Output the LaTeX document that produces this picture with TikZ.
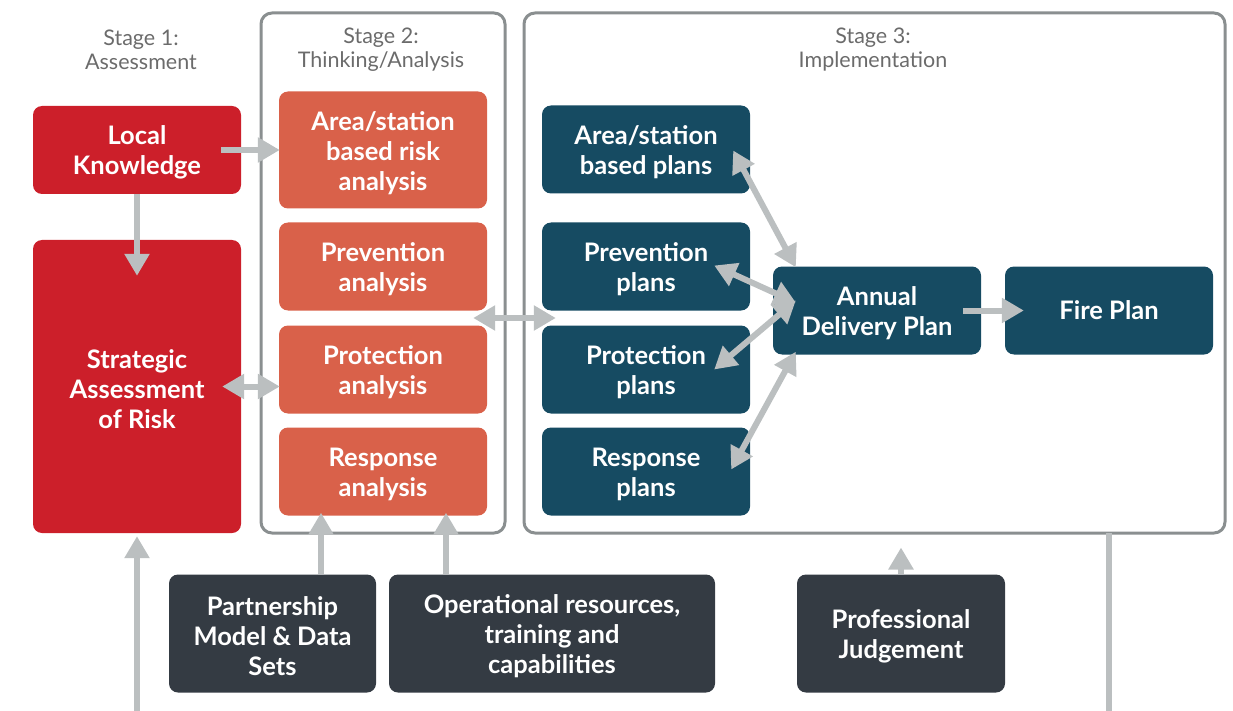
\documentclass[tikz,border=0pt]{standalone}
\usepackage{fontspec}
\setmainfont{Lato}
\usetikzlibrary{arrows.meta,calc}
\definecolor{cred}{HTML}{CC1F2A}
\definecolor{corange}{HTML}{D9614A}
\definecolor{cteal}{HTML}{164B62}
\definecolor{cdark}{HTML}{343B43}
\definecolor{carrow}{HTML}{BBBFC0}
\definecolor{cframe}{HTML}{8A8F90}
\definecolor{clabel}{HTML}{6B6B6B}
\newcommand\mystrut{\rule{0pt}{24.5pt}}
\tikzset{
  basebox/.style={rounded corners=9pt, text=white, align=center, inner sep=0pt,
    font=\bfseries\fontsize{25.5}{30}\selectfont, minimum width=208pt, minimum height=88pt},
  redbox/.style={basebox, fill=cred},
  orangebox/.style={basebox, fill=corange},
  tealbox/.style={basebox, fill=cteal},
  darkbox/.style={basebox, fill=cdark, minimum height=118pt},
  framebox/.style={draw=cframe, line width=3pt, rounded corners=11pt, inner sep=0pt},
  stagelabel/.style={text=clabel, align=center, font=\fontsize{21.5}{24}\selectfont},
  arr/.style={draw=carrow, line width=6pt, -{Triangle[length=22pt,width=24pt]}},
  darr/.style={draw=carrow, line width=6pt, {Triangle[length=22pt,width=24pt]}-{Triangle[length=22pt,width=24pt]}},
  plainline/.style={draw=carrow, line width=6pt},
}
\begin{document}
\begin{tikzpicture}[x=1pt,y=-1pt]
\useasboundingbox (0,0) rectangle (1233,711);
% frames
\node[framebox, minimum width=244pt, minimum height=520pt] (s2) at (383,273) {};
\node[framebox, minimum width=701pt, minimum height=520pt] (s3) at (874.5,273) {};
% stage labels
\node[stagelabel] (l1) at (141,50) {Stage 1:\\Assessment};
\node[stagelabel] (l2) at (381,50) {Stage 2:\\Thinking/Analysis};
\node[stagelabel] (l3) at (873,50) {Stage 3:\\Implementation};
% stage 1
\node[redbox] (lk) at (137,150) {\mystrut Local\\Knowledge};
\node[redbox, minimum height=293pt] (sar) at (137,386.5) {\mystrut Strategic\\Assessment\\of Risk};
% stage 2
\node[orangebox, minimum height=117pt] (ar2) at (383,150) {\mystrut Area/station\\based risk\\analysis};
\node[orangebox] (pv2) at (383,266.5) {\mystrut Prevention\\analysis};
\node[orangebox] (pr2) at (383,369.5) {\mystrut Protection\\analysis};
\node[orangebox] (rs2) at (383,471.5) {\mystrut Response\\analysis};
% stage 3
\node[tealbox] (ar3) at (646,149.5) {\mystrut Area/station\\based plans};
\node[tealbox] (pv3) at (646,266.5) {\mystrut Prevention\\plans};
\node[tealbox] (pr3) at (646,369.5) {\mystrut Protection\\plans};
\node[tealbox] (rs3) at (646,471.5) {\mystrut Response\\plans};
\node[tealbox] (adp) at (877,310.5) {\mystrut Annual\\Delivery Plan};
\node[tealbox] (fp) at (1109,310.5) {Fire Plan};
% bottom inputs
\node[darkbox, minimum width=207pt] (pm) at (272.5,633.5) {\mystrut Partnership\\Model \& Data\\Sets};
\node[darkbox, minimum width=326pt] (op) at (552,633.5) {\mystrut Operational resources,\\training and\\capabilities};
\node[darkbox] (pj) at (901,633.5) {\mystrut Professional\\Judgement};
% connectors
\draw[arr] ([xshift=-20pt]lk.east) -- ([xshift=1pt]ar2.west |- lk.east);
\draw[arr] (lk.south) -- ([yshift=-36pt]sar.north);
\coordinate (b1) at (137,711);
\draw[arr] (b1) -- ([yshift=-3pt]sar.south);
\draw[darr] ([xshift=-19pt]sar.east) -- ([xshift=1pt]pr2.west |- sar.east);
\coordinate (mid2) at ($(pv2.south east)!0.5!(pr2.north east)$);
\coordinate (mid3) at ($(pv3.south west)!0.5!(pr3.north west)$);
\draw[darr] ([xshift=-14pt]mid2) -- ([xshift=14pt]mid3);
\draw[darr] ([xshift=-17pt,yshift=-1pt]ar3.east) -- ([xshift=23pt,yshift=-1pt]adp.north west);
\draw[darr] ([xshift=-36pt,yshift=1pt]pv3.east) -- ([xshift=23pt,yshift=8pt]adp.west);
\draw[darr] ([xshift=-36pt]pr3.east) -- ([xshift=23pt,yshift=10pt]adp.west);
\draw[darr] ([xshift=-19pt,yshift=2pt]rs3.east) -- ([xshift=23pt,yshift=3pt]adp.south west);
\draw[arr] ([xshift=-18pt]adp.east) -- ([xshift=19pt]fp.west);
\draw[arr] ([xshift=48.5pt]pm.north) -- ([xshift=48.5pt,yshift=3pt]pm.north |- rs2.south);
\draw[arr] ([xshift=-106pt]op.north) -- ([xshift=-106pt,yshift=3pt]op.north |- rs2.south);
\draw[arr] (pj.north) -- ([yshift=-13pt]pj.north |- s3.south);
\coordinate (b2) at (1109,711);
\draw[plainline] (b2) -- ([yshift=2pt]b2 |- s3.south);
\end{tikzpicture}
\end{document}
